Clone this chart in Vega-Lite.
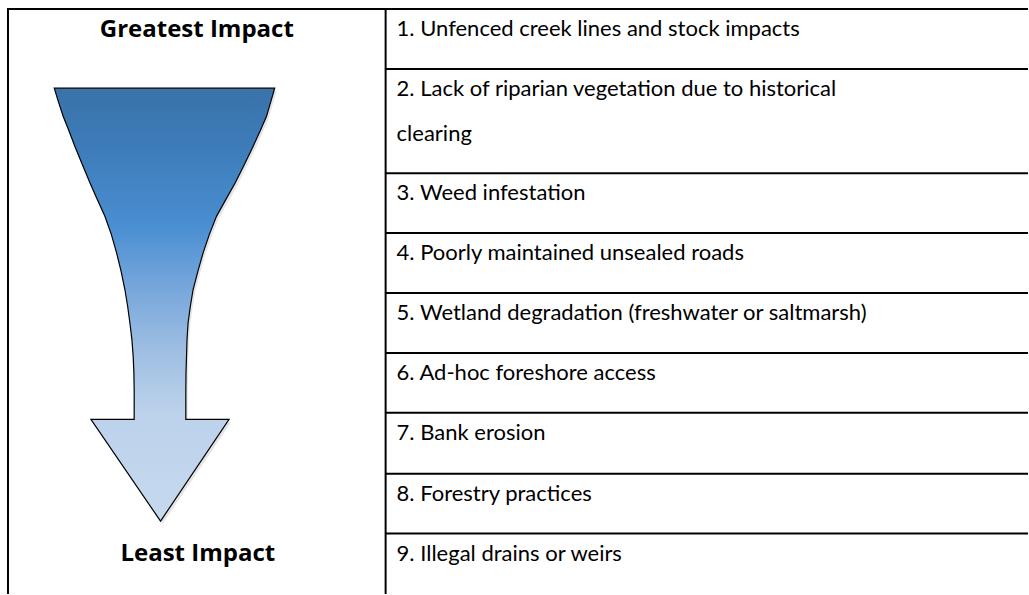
{
  "$schema": "https://vega.github.io/schema/vega-lite/v6.json",
  "width": 1029,
  "height": 595,
  "autosize": {"type": "fit", "contains": "padding"},
  "padding": 0,
  "background": "white",
  "config": {"view": {"stroke": null}},
  "datasets": {
    "arrow": [
      {"y": 88.3, "xl": 54.3, "xr": 275},
      {"y": 102, "xl": 58.5, "xr": 271},
      {"y": 116.7, "xl": 63.3, "xr": 266.7},
      {"y": 131, "xl": 69, "xr": 260.5},
      {"y": 146.7, "xl": 75, "xr": 253.3},
      {"y": 165, "xl": 82.5, "xr": 244.5},
      {"y": 183, "xl": 90, "xr": 235.5},
      {"y": 200, "xl": 97.5, "xr": 226},
      {"y": 216.7, "xl": 105, "xr": 216.7},
      {"y": 235, "xl": 111.5, "xr": 209.5},
      {"y": 253.3, "xl": 116.7, "xr": 203.3},
      {"y": 272, "xl": 121.3, "xr": 198},
      {"y": 290, "xl": 125, "xr": 193.3},
      {"y": 307, "xl": 127.8, "xr": 190.5},
      {"y": 323.3, "xl": 130, "xr": 188.3},
      {"y": 340, "xl": 132, "xr": 187.2},
      {"y": 356.7, "xl": 133.3, "xr": 186.7},
      {"y": 373, "xl": 134, "xr": 186.2},
      {"y": 390, "xl": 134.3, "xr": 186},
      {"y": 420, "xl": 134.3, "xr": 186},
      {"y": 420.05, "xl": 91, "xr": 229.3},
      {"y": 522, "xl": 160.7, "xr": 160.7}
    ],
    "hlines": [
      {"y": 9, "x1": 7, "x2": 1029},
      {"y": 69, "x1": 386, "x2": 1029},
      {"y": 173.5, "x1": 386, "x2": 1029},
      {"y": 233.5, "x1": 386, "x2": 1029},
      {"y": 293.5, "x1": 386, "x2": 1029},
      {"y": 353.5, "x1": 386, "x2": 1029},
      {"y": 413.5, "x1": 386, "x2": 1029},
      {"y": 474.5, "x1": 386, "x2": 1029},
      {"y": 534.5, "x1": 386, "x2": 1029}
    ],
    "vlines": [
      {"x": 8, "y1": 8, "y2": 595},
      {"x": 386, "y1": 8, "y2": 595}
    ],
    "items": [
      {"rank": 1, "label": "1. Unfenced creek lines and stock impacts", "y": 29},
      {"rank": 2, "label": "2. Lack of riparian vegetation due to historical", "y": 89},
      {"rank": 2, "label": "clearing", "y": 134},
      {"rank": 3, "label": "3. Weed infestation", "y": 193.5},
      {"rank": 4, "label": "4. Poorly maintained unsealed roads", "y": 253.5},
      {"rank": 5, "label": "5. Wetland degradation (freshwater or saltmarsh)", "y": 313.5},
      {"rank": 6, "label": "6. Ad-hoc foreshore access", "y": 373.5},
      {"rank": 7, "label": "7. Bank erosion", "y": 433.5},
      {"rank": 8, "label": "8. Forestry practices", "y": 494.5},
      {"rank": 9, "label": "9. Illegal drains or weirs", "y": 554.5}
    ],
    "heads": [
      {"label": "Greatest Impact", "x": 197, "y": 30},
      {"label": "Least Impact", "x": 198, "y": 555}
    ]
  },
  "layer": [
    {
      "data": {"name": "arrow"},
      "mark": {
        "type": "area",
        "orient": "horizontal",
        "interpolate": "linear",
        "fill": "#000000",
        "opacity": 0.1,
        "xOffset": 2,
        "x2Offset": 2,
        "yOffset": 3
      },
      "encoding": {
        "y": {"field": "y", "type": "quantitative", "scale": {"domain": [0, 595], "reverse": true}, "axis": null},
        "x": {"field": "xl", "type": "quantitative", "scale": {"domain": [0, 1029]}, "axis": null},
        "x2": {"field": "xr"}
      }
    },
    {
      "data": {"name": "arrow"},
      "mark": {
        "type": "area",
        "orient": "horizontal",
        "interpolate": "linear",
        "stroke": "#000000",
        "strokeWidth": 1.2,
        "strokeJoin": "miter",
        "fill": {
          "gradient": "linear",
          "x1": 0, "y1": 0, "x2": 0, "y2": 1,
          "stops": [
            {"offset": 0, "color": "#3a72a9"},
            {"offset": 0.15, "color": "#3e7dbb"},
            {"offset": 0.32, "color": "#4a8fd2"},
            {"offset": 0.45, "color": "#73a5da"},
            {"offset": 0.6, "color": "#9dbde2"},
            {"offset": 0.75, "color": "#bcd2eb"},
            {"offset": 1, "color": "#c6d9ee"}
          ]
        }
      },
      "encoding": {
        "y": {"field": "y", "type": "quantitative", "scale": {"domain": [0, 595], "reverse": true}, "axis": null},
        "x": {"field": "xl", "type": "quantitative", "scale": {"domain": [0, 1029]}, "axis": null},
        "x2": {"field": "xr"}
      }
    },
    {
      "data": {"name": "hlines"},
      "mark": {"type": "rule", "color": "#000000", "strokeWidth": 2},
      "encoding": {
        "y": {"field": "y", "type": "quantitative", "scale": {"domain": [0, 595], "reverse": true}, "axis": null},
        "x": {"field": "x1", "type": "quantitative", "scale": {"domain": [0, 1029]}, "axis": null},
        "x2": {"field": "x2"}
      }
    },
    {
      "data": {"name": "vlines"},
      "mark": {"type": "rule", "color": "#000000", "strokeWidth": 2},
      "encoding": {
        "x": {"field": "x", "type": "quantitative", "scale": {"domain": [0, 1029]}, "axis": null},
        "y": {"field": "y1", "type": "quantitative", "scale": {"domain": [0, 595], "reverse": true}, "axis": null},
        "y2": {"field": "y2"}
      }
    },
    {
      "data": {"name": "items"},
      "mark": {"type": "text", "align": "left", "baseline": "middle", "font": "Lato", "fontSize": 22, "color": "#000000"},
      "encoding": {
        "x": {"datum": 397, "type": "quantitative", "scale": {"domain": [0, 1029]}, "axis": null},
        "y": {"field": "y", "type": "quantitative", "scale": {"domain": [0, 595], "reverse": true}, "axis": null},
        "text": {"field": "label"}
      }
    },
    {
      "data": {"name": "heads"},
      "mark": {"type": "text", "align": "center", "baseline": "middle", "font": "Open Sans", "fontSize": 24, "fontWeight": "bold", "color": "#000000"},
      "encoding": {
        "x": {"field": "x", "type": "quantitative", "scale": {"domain": [0, 1029]}, "axis": null},
        "y": {"field": "y", "type": "quantitative", "scale": {"domain": [0, 595], "reverse": true}, "axis": null},
        "text": {"field": "label"}
      }
    }
  ]
}
